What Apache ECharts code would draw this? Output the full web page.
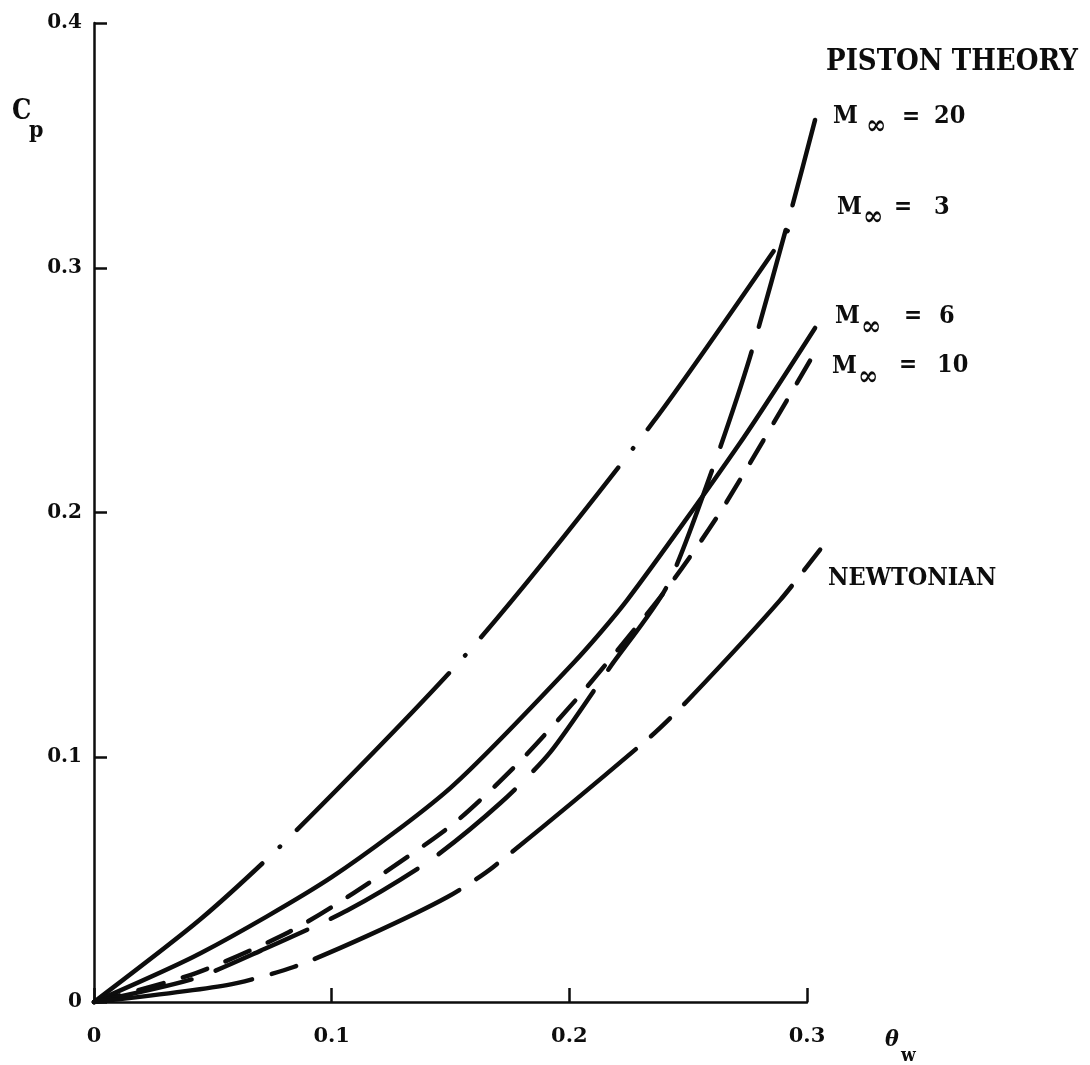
<!DOCTYPE html>
<html>
<head>
<meta charset="utf-8">
<script src="https://cdn.jsdelivr.net/npm/echarts@6/dist/echarts.min.js"></script>
<style>
html,body{margin:0;padding:0;background:#fff;}
#chart{width:1090px;height:1065px;}
</style>
</head>
<body>
<div id="chart"></div>
<script>
// ---- data (x = theta_w, y = Cp) ----
const xTicks = [0, 0.1, 0.2, 0.3];
const yTicks = [0, 0.1, 0.2, 0.3, 0.4];

// Piston theory, M = 3 (dash-dot)
const m3Points = [[0,0],[0.045,0.034],[0.0828,0.0678],[0.1588,0.1445],[0.2353,0.2370],[0.297,0.3224]];
// Piston theory, M = 6 (solid)
const m6Points = [[0,0],[0.045,0.020],[0.1,0.051],[0.15,0.0875],[0.2017,0.1385],[0.2244,0.1643],[0.2718,0.2284],[0.3034,0.2754]];
// Piston theory, M = 10 (short dashes)
const m10Points = [[0,0],[0.0429,0.0118],[0.0819,0.0285],[0.1092,0.0445],[0.1508,0.0725],[0.1786,0.0977],[0.2059,0.1270],[0.2416,0.1696],[0.2647,0.2020],[0.3034,0.2656]];
// Piston theory, M = 20 (long dashes)
const m20Points = [[0,0],[0.042,0.0095],[0.0702,0.021],[0.1067,0.0375],[0.1416,0.058],[0.171,0.0813],[0.192,0.1021],[0.2172,0.1369],[0.241,0.1697],[0.2606,0.2187],[0.276,0.2635],[0.2937,0.3248],[0.3034,0.3604]];
// Newtonian (long-short dashes)
const newtonPoints = [[0,0],[0.0559,0.0069],[0.084,0.0143],[0.115,0.027],[0.1487,0.0429],[0.168,0.0552],[0.234,0.1083],[0.2508,0.1242],[0.2887,0.1642],[0.308,0.188]];

const seriesNames = ['M∞ = 3', 'M∞ = 6', 'M∞ = 10', 'M∞ = 20', 'NEWTONIAN'];

// ---- chart ----
const INK = '#0d0d0d';
const FONT = "'DejaVu Serif Condensed','DejaVu Serif',serif";
const chart = echarts.init(document.getElementById('chart'), null, {renderer:'canvas'});

// visible axes end at x = 0.3; the curves run slightly past it, so they are
// drawn on a hidden, wider grid that shares the same scale.
const GRID_LEFT = 94, GRID_RIGHT_PX = 807, GRID_TOP = 23, GRID_BOTTOM = 63;
const X_MAX = xTicks[xTicks.length - 1];
const X_EXT = 0.32;
const pxPerUnit = (GRID_RIGHT_PX - GRID_LEFT) / X_MAX;
const extRight = 1090 - (GRID_LEFT + pxPerUnit * X_EXT);

function curve(name, pts, type) {
  return {
    name: name, type: 'line', data: pts, showSymbol: false, symbol: 'none',
    xAxisIndex: 1, yAxisIndex: 1,
    smooth: 0.25, clip: false, silent: true,
    lineStyle: {color: INK, width: 4.5, type: type, cap: 'round', join: 'round'}
  };
}

function txt(text, x, y, size, opts) {
  opts = opts || {};
  return {
    type: 'text', x: x, y: y, silent: true,
    style: {
      text: text, fill: INK,
      font: (opts.italic ? 'italic ' : '') + 'bold ' + size + 'px ' + (opts.family || FONT),
      align: opts.align || 'left', verticalAlign: 'middle'
    }
  };
}

const labelFmt = v => (v === 0 ? '0' : v.toFixed(1));

const graphics = [
  txt('PISTON THEORY', 826, 62, 29),
  // M = 20
  txt('M', 833, 116, 25), txt('∞', 866, 127, 27), txt('=', 902, 118, 24), txt('20', 934, 116, 25),
  // M = 3
  txt('M', 837, 207, 25), txt('∞', 863, 218, 27), txt('=', 894, 208, 24), txt('3', 934, 207, 25),
  // M = 6
  txt('M', 835, 316, 25), txt('∞', 861, 328, 27), txt('=', 904, 317, 24), txt('6', 939, 316, 25),
  // M = 10
  txt('M', 832, 366, 25), txt('∞', 858, 378, 27), txt('=', 899, 366, 24), txt('10', 937, 365, 25),
  txt('NEWTONIAN', 828, 578, 25),
  // axis names
  txt('C', 12, 112, 27), txt('p', 29, 131, 23),
  txt('θ', 885, 1040, 23, {italic: true}), txt('w', 901, 1056, 19)
];

const hiddenAxis = {show: false};

chart.setOption({
  animation: false,
  backgroundColor: '#ffffff',
  grid: [
    {left: GRID_LEFT, right: 1090 - GRID_RIGHT_PX, top: GRID_TOP, bottom: GRID_BOTTOM, containLabel: false},
    {left: GRID_LEFT, right: extRight, top: GRID_TOP, bottom: GRID_BOTTOM, containLabel: false}
  ],
  xAxis: [{
    gridIndex: 0, type: 'value', min: xTicks[0], max: X_MAX, interval: 0.1,
    axisLine: {show: true, onZero: false, lineStyle: {color: INK, width: 2.5}},
    axisTick: {show: true, inside: true, length: 14, lineStyle: {color: INK, width: 2.5}},
    splitLine: {show: false},
    axisLabel: {color: INK, fontFamily: 'DejaVu Serif', fontWeight: 'bold', fontSize: 21, margin: 24, formatter: labelFmt}
  }, {
    gridIndex: 1, type: 'value', min: xTicks[0], max: X_EXT, show: false, splitLine: {show: false}
  }],
  yAxis: [{
    gridIndex: 0, type: 'value', min: yTicks[0], max: yTicks[yTicks.length - 1], interval: 0.1,
    axisLine: {show: true, onZero: false, lineStyle: {color: INK, width: 2.5}},
    axisTick: {show: true, inside: true, length: 13, lineStyle: {color: INK, width: 2.5}},
    splitLine: {show: false},
    axisLabel: {color: INK, fontFamily: 'DejaVu Serif', fontWeight: 'bold', fontSize: 20, margin: 12, formatter: labelFmt}
  }, {
    gridIndex: 1, type: 'value', min: yTicks[0], max: yTicks[yTicks.length - 1], show: false, splitLine: {show: false}
  }],
  series: [
    curve(seriesNames[0], m3Points, [218, 24, 0.5, 24]),
    curve(seriesNames[1], m6Points, 'solid'),
    curve(seriesNames[2], m10Points, [26, 20]),
    curve(seriesNames[3], m20Points, [100, 26]),
    curve(seriesNames[4], newtonPoints, [160, 20, 26, 20])
  ],
  graphic: graphics
});
</script>
</body>
</html>
